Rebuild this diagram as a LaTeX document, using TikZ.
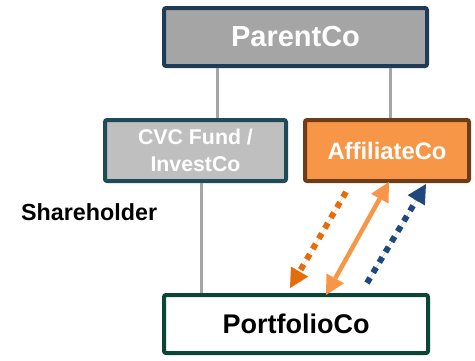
\documentclass[tikz,border=0pt]{standalone}
\usepackage{fontspec}
\setmainfont{Liberation Sans}
\usetikzlibrary{arrows.meta}
\definecolor{navyb}{HTML}{1F3B57}
\definecolor{tealb}{HTML}{1E4A5A}
\definecolor{brownb}{HTML}{6E3D17}
\definecolor{greenb}{HTML}{0B4536}
\definecolor{grayA}{HTML}{A5A5A5}
\definecolor{grayB}{HTML}{BFBFBF}
\definecolor{orangeF}{HTML}{F79646}
\definecolor{orangeD}{HTML}{E46C0A}
\definecolor{blueD}{HTML}{1F497D}
\tikzset{
  box/.style={draw, line width=4pt, rounded corners=2pt, align=center,
    font=\bfseries, inner sep=0pt},
  link/.style={draw=grayA, line width=3pt},
  tip/.tip={Triangle[length=19pt,width=20pt,line width=0pt]},
  dotarrow/.style={line width=6pt, dash pattern=on 6pt off 6pt, -tip},
}
\begin{document}
\begin{tikzpicture}[x=1pt,y=-1pt]
  \useasboundingbox (0,0) rectangle (475,360);
  % entities
  \node[box, draw=navyb, fill=grayA, text=white, minimum width=263pt,
        minimum height=58pt, font=\bfseries\fontsize{29}{32}\selectfont]
        (parent) at (295.5,37) {ParentCo};
  \node[box, draw=tealb, fill=grayB, text=white, minimum width=181pt,
        minimum height=61pt, font=\bfseries\fontsize{21.3}{27}\selectfont]
        (cvc) at (195.5,150.5) {CVC Fund /\\InvestCo};
  \node[box, draw=brownb, fill=orangeF, text=white, minimum width=164pt,
        minimum height=61pt, font=\bfseries\fontsize{23.8}{26}\selectfont]
        (aff) at (387,150.5) {AffiliateCo};
  \node[box, draw=greenb, fill=white, text=black, minimum width=264pt,
        minimum height=58pt, font=\bfseries\fontsize{27}{30}\selectfont]
        (port) at (296,324) {PortfolioCo};
  \node[font=\bfseries\fontsize{23.3}{26}\selectfont, anchor=west, inner sep=0pt]
        (share) at (21,212) {Shareholder};
  % ownership links
  \path[link] (parent.south -| 217,0) -- (cvc.north -| 217,0);
  \path[link] (parent.south -| 390,0) -- (aff.north -| 390,0);
  \path[link] (cvc.south -| 201,0) -- (port.north -| 201,0);
  % flows between AffiliateCo and PortfolioCo
  \coordinate (o1) at (346,192);
  \coordinate (o2) at (290,288);
  \coordinate (s1) at (389,182);
  \coordinate (s2) at (326,295);
  \coordinate (b1) at (367,283);
  \coordinate (b2) at (426,184);
  \draw[dotarrow, draw=orangeD, fill=orangeD] (o1) -- (o2);
  \draw[line width=4.5pt, draw=orangeF, fill=orangeF, tip-tip] (s1) -- (s2);
  \draw[dotarrow, draw=blueD, fill=blueD] (b1) -- (b2);
\end{tikzpicture}
\end{document}
